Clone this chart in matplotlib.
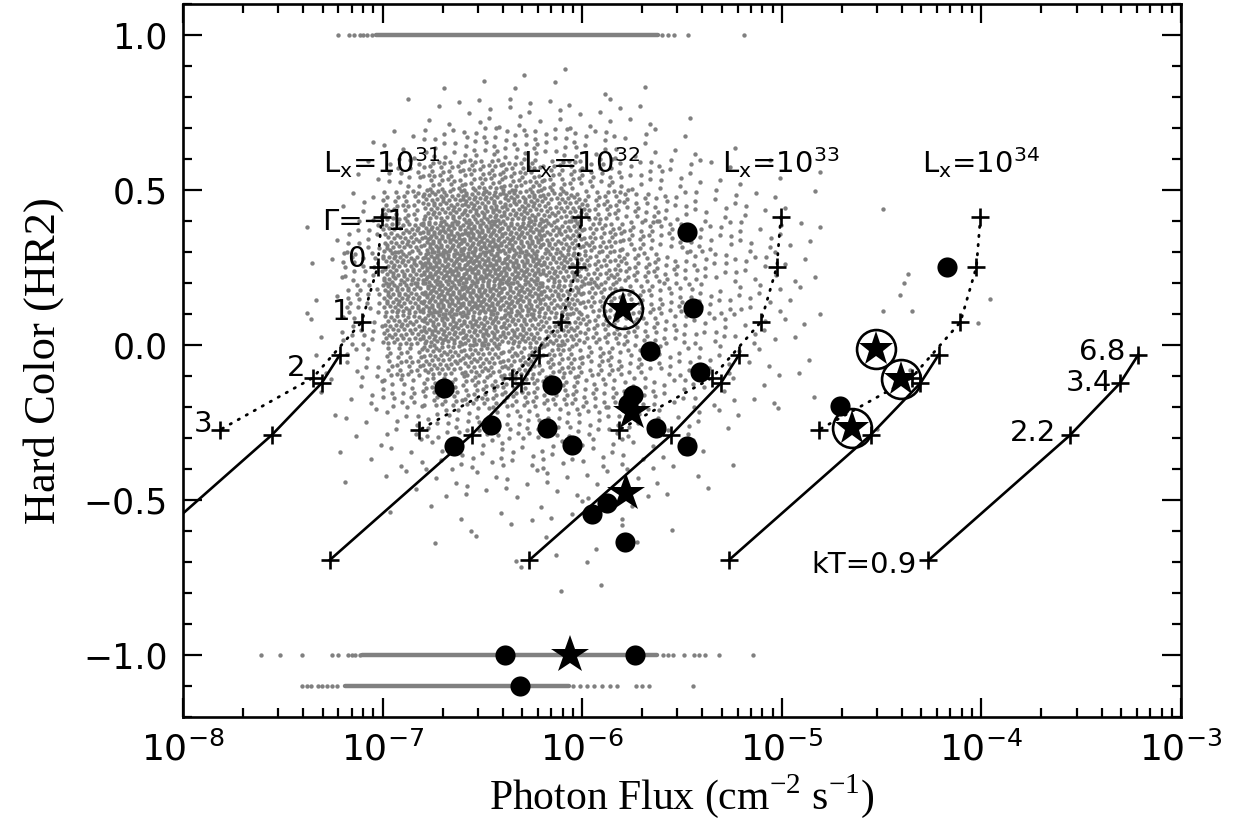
import numpy as np
import matplotlib
matplotlib.use("Agg")
import matplotlib.pyplot as plt
from matplotlib.ticker import LogLocator, MultipleLocator, FuncFormatter

# ── Data ──────────────────────────────────────────────────────────────────────
# gray source cloud: point counts per cell (log flux bins of 0.2 dex, HR bins of 0.1)
CLOUD_LOGF_LO = [-7.6, -7.4, -7.2, -7.0, -6.8, -6.6, -6.4, -6.2, -6.0, -5.8, -5.6, -5.4, -5.2, -5.0]
CLOUD_HR_LO = [0.8, 0.7, 0.6, 0.5, 0.4, 0.3, 0.2, 0.1, 0.0, -0.1, -0.2, -0.3, -0.4, -0.5, -0.6, -0.7, -0.8]
CLOUD_COUNTS = [
    [0, 0, 0, 0, 1, 1, 2, 2, 1, 1, 0, 0, 0, 0],
    [0, 0, 0, 1, 4, 6, 7, 6, 5, 3, 1, 0, 0, 0],
    [0, 0, 1, 5, 12, 17, 17, 14, 10, 6, 3, 1, 0, 0],
    [0, 0, 3, 15, 32, 38, 38, 30, 20, 13, 8, 4, 2, 1],
    [0, 0, 7, 32, 58, 68, 62, 48, 32, 21, 13, 8, 5, 2],
    [0, 2, 12, 52, 82, 88, 75, 55, 38, 26, 17, 11, 7, 4],
    [0, 3, 18, 62, 92, 92, 80, 58, 40, 28, 18, 12, 8, 4],
    [0, 3, 18, 62, 88, 88, 72, 54, 38, 26, 17, 11, 7, 3],
    [0, 3, 14, 50, 70, 70, 60, 46, 33, 23, 15, 10, 6, 3],
    [0, 2, 9, 30, 48, 48, 43, 35, 26, 18, 12, 7, 4, 2],
    [0, 2, 6, 17, 29, 32, 30, 26, 20, 15, 10, 5, 3, 1],
    [0, 1, 4, 9, 14, 16, 16, 15, 12, 9, 6, 3, 1, 0],
    [0, 1, 2, 5, 7, 8, 9, 9, 8, 6, 4, 2, 0, 0],
    [0, 0, 1, 3, 4, 5, 5, 5, 5, 4, 2, 1, 0, 0],
    [0, 0, 0, 1, 2, 2, 3, 3, 3, 2, 1, 0, 0, 0],
    [0, 0, 0, 0, 1, 1, 1, 2, 2, 1, 0, 0, 0, 0],
    [0, 0, 0, 0, 0, 0, 1, 1, 1, 0, 0, 0, 0, 0],
]
# isolated gray points to the right of the cloud
OUTLIER_FLUX = [3.2e-5, 4.3e-5, 4.1e-5, 3.9e-5, 4.5e-5, 3.2e-5, 4.4e-5, 3.0e-5, 9.6e-5, 1.1e-4]
OUTLIER_HR = [0.44, 0.23, 0.20, 0.16, 0.11, 0.11, -0.08, -0.27, 0.07, 0.15]

# sources with HR pinned at +1.0 / -1.0 / -1.1: dense runs and sparse points
BAND_HR = [1.0, -1.0, -1.1]
BAND_RUNS = [[(9.3e-8, 2.4e-6)], [(7.9e-8, 2.37e-6)], [(6.5e-8, 8.6e-7)]]
BAND_DOTS = [
    [6.0e-8, 6.8e-8, 7.2e-8, 7.7e-8, 8.0e-8, 8.4e-8, 8.8e-8, 2.5e-6, 2.7e-6, 2.9e-6, 3.4e-6, 6.5e-6],
    [2.45e-8, 3.05e-8, 3.95e-8, 5.6e-8, 6.0e-8, 6.7e-8, 7.0e-8, 7.3e-8, 7.7e-8,
     2.55e-6, 2.7e-6, 2.85e-6, 3.25e-6, 3.65e-6, 3.85e-6, 4.1e-6, 4.85e-6, 7.2e-6],
    [3.95e-8, 4.2e-8, 4.4e-8, 4.75e-8, 4.95e-8, 5.25e-8, 5.55e-8, 5.9e-8,
     9.0e-7, 9.7e-7, 1.06e-6, 1.14e-6, 1.26e-6, 1.38e-6, 1.5e-6, 1.85e-6, 2.0e-6, 2.15e-6, 3.6e-6],
]

# model tracks, flux given for Lx = 1e31; flux scales with Lx
PL_GAMMA = [-1, 0, 1, 2, 3]
PL_FLUX31 = [9.89e-8, 9.44e-8, 7.85e-8, 4.47e-8, 1.53e-8]
PL_HR = [0.413, 0.252, 0.074, -0.106, -0.274]
PL_LOGLX = [31, 32, 33, 34]

TH_KT = [0.9, 2.2, 3.4, 6.8]
TH_FLUX31 = [5.43e-8, 2.79e-7, 4.95e-7, 6.10e-7]
TH_HR = [-0.694, -0.290, -0.123, -0.032]
TH_LOGLX = [30, 31, 32, 33, 34]

# detected sources
DOT_FLUX = [3.35e-6, 3.59e-6, 2.19e-6, 3.89e-6, 2.04e-7, 7.08e-7, 1.80e-6, 1.70e-6,
            3.51e-7, 6.68e-7, 8.91e-7, 2.29e-7, 2.34e-6, 3.35e-6, 1.33e-6, 1.12e-6,
            1.64e-6, 6.76e-5, 1.95e-5, 4.12e-7, 1.84e-6, 4.90e-7]
DOT_HR = [0.365, 0.119, -0.019, -0.087, -0.139, -0.129, -0.161, -0.190,
          -0.258, -0.268, -0.323, -0.326, -0.268, -0.326, -0.510, -0.545,
          -0.635, 0.252, -0.197, -1.0, -1.0, -1.1]
STAR_FLUX = [1.78e-6, 1.66e-6, 8.71e-7]
STAR_HR = [-0.216, -0.477, -1.0]
RING_FLUX = [1.60e-6, 2.95e-5, 3.94e-5, 2.24e-5]
RING_HR = [0.116, -0.013, -0.110, -0.268]

# ── Style ─────────────────────────────────────────────────────────────────────
GRAY = "#808080"
BLACK = "black"
DOT_S = 10
plt.rcParams["font.family"] = ["DejaVu Sans"]

fig = plt.figure(figsize=(12.37, 8.34), dpi=100)
ax = fig.add_axes([183 / 1237, 1 - 717 / 834, 998 / 1237, 713 / 834])
ax.set_xscale("log")
ax.set_xlim(1e-8, 1e-3)
ax.set_ylim(-1.2, 1.1)

# gray cloud: counts placed on a fixed low-discrepancy pattern inside each cell
g = 1.32471795724474602596
a1, a2 = 1 / g, 1 / g ** 2
cx, cy = [], []
for r, hr_lo in enumerate(CLOUD_HR_LO):
    for c, lf_lo in enumerate(CLOUD_LOGF_LO):
        n = CLOUD_COUNTS[r][c]
        if n == 0:
            continue
        k = np.arange(n) + (r * len(CLOUD_LOGF_LO) + c) * 53
        cx.append(10 ** (lf_lo + 0.2 * ((0.5 + a1 * k) % 1)))
        cy.append(hr_lo + 0.1 * ((0.5 + a2 * k) % 1))
cx = np.concatenate(cx)
cy = np.concatenate(cy)
ax.scatter(cx, cy, s=DOT_S, c=GRAY, linewidths=0, zorder=1)
ax.scatter(OUTLIER_FLUX, OUTLIER_HR, s=DOT_S, c=GRAY, linewidths=0, zorder=1)

for hr, runs, dots in zip(BAND_HR, BAND_RUNS, BAND_DOTS):
    for x0, x1 in runs:
        ax.plot([x0, x1], [hr, hr], color=GRAY, lw=3.2, solid_capstyle="round", zorder=1)
    ax.scatter(dots, [hr] * len(dots), s=DOT_S, c=GRAY, linewidths=0, zorder=1)

# model tracks
for lx in PL_LOGLX:
    f = np.array(PL_FLUX31) * 10 ** (lx - 31)
    ax.plot(f, PL_HR, color=BLACK, lw=2.0, ls=(0, (0.5, 2.8)), dash_capstyle="round", zorder=2)
    ax.plot(f, PL_HR, ls="none", marker="+", ms=13, mew=1.9, color=BLACK, zorder=3)
for lx in TH_LOGLX:
    f = np.array(TH_FLUX31) * 10 ** (lx - 31)
    ax.plot(f, TH_HR, color=BLACK, lw=1.9, zorder=2)
    ax.plot(f, TH_HR, ls="none", marker="+", ms=13, mew=1.9, color=BLACK, zorder=3)

# sources
ax.plot(DOT_FLUX, DOT_HR, ls="none", marker="o", ms=14.5, color=BLACK, mew=0, zorder=4)
ax.plot(STAR_FLUX, STAR_HR, ls="none", marker="*", ms=29, color=BLACK, mew=0, zorder=4)
ax.plot(RING_FLUX, RING_HR, ls="none", marker="*", ms=26, color=BLACK, mew=0, zorder=4)
ax.plot(RING_FLUX, RING_HR, ls="none", marker="o", ms=28, mfc="none", mec=BLACK, mew=1.9, zorder=4)

# annotations
for lx in PL_LOGLX:
    ax.text(PL_FLUX31[0] * 10 ** (lx - 31), 0.555,
            r"L$_{\mathdefault{x}}$=10$^{\mathdefault{%d}}$" % lx,
            ha="center", va="baseline", fontsize=21)
gamma_labels = ["\u0393=\u22121", "0", "1", "2", "3"]
gamma_pos = [(8.1e-8, 0.397), (7.4e-8, 0.277), (6.2e-8, 0.106), (3.7e-8, -0.074), (1.26e-8, -0.255)]
for s, (x, y) in zip(gamma_labels, gamma_pos):
    ax.text(x, y, s, ha="center", va="center", fontsize=21, zorder=2)
kt_labels = ["kT=0.9", "2.2", "3.4", "6.8"]
kt_pos = [(2.57e-5, -0.71), (1.82e-4, -0.284), (3.47e-4, -0.123), (4.03e-4, -0.023)]
for s, (x, y) in zip(kt_labels, kt_pos):
    ax.text(x, y, s, ha="center", va="center", fontsize=21)

# axes
for sp in ax.spines.values():
    sp.set_linewidth(1.9)
ax.xaxis.set_major_locator(LogLocator(base=10, numticks=10))
ax.xaxis.set_minor_locator(LogLocator(base=10, subs=np.arange(2, 10), numticks=20))
ax.yaxis.set_major_locator(MultipleLocator(0.5))
ax.yaxis.set_minor_locator(MultipleLocator(0.1))
ax.yaxis.set_major_formatter(FuncFormatter(lambda v, p: f"{v:.1f}".replace("-", "\u2212")))
ax.tick_params(which="both", direction="in", top=True, right=True, width=1.6, labelsize=25)
ax.tick_params(axis="x", labelsize=26)
ax.tick_params(which="major", length=13.5)
ax.tick_params(which="minor", length=6.5)
ax.tick_params(axis="x", pad=10)
ax.tick_params(axis="y", pad=11)

ax.set_xlabel(r"Photon Flux (cm$^{\mathdefault{-2}}$ s$^{\mathdefault{-1}}$)",
              fontsize=30, family="Liberation Serif", labelpad=4)
ax.set_ylabel("Hard Color (HR2)", fontsize=32, family="Liberation Serif", labelpad=14)

fig.savefig("out.png", dpi=100)
